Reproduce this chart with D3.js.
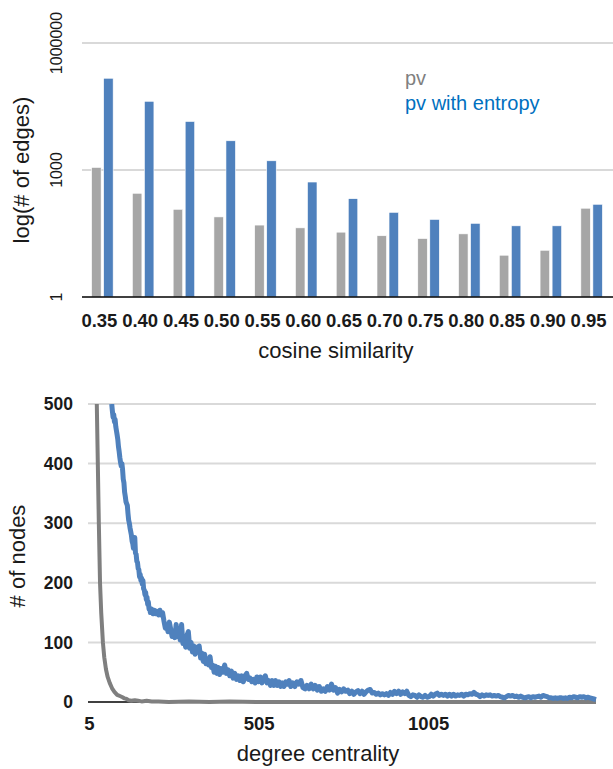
<!DOCTYPE html>
<html>
<head>
<meta charset="utf-8">
<script src="https://cdn.jsdelivr.net/npm/d3@7"></script>
<style>
	body { margin: 0; background: #fff; }
	svg { display: block; font-family: "Liberation Sans", Arial, sans-serif; }
</style>
</head>
<body>
<svg id="chart" width="613" height="769"></svg>
<script>
// top chart: number of edges per cosine similarity threshold (log scale)
var cats = ['0.35', '0.40', '0.45', '0.50', '0.55', '0.60', '0.65', '0.70', '0.75', '0.80', '0.85', '0.90', '0.95'];
var pvEdges = [1150, 282, 118, 78, 50, 43, 34, 28, 24, 31, 9.7, 12.7, 125];
var entropyEdges = [147000, 42000, 14000, 4900, 1650, 520, 210, 100, 68, 55, 48, 48, 155];
var logTicks = [1, 1000, 1000000];

// bottom chart: degree centrality distribution
var degTicks = [5, 505, 1005];
var nodeTicks = [0, 100, 200, 300, 400, 500];
var pvNodes = [[5, 1600], [10, 1300], [20, 800], [28, 500], [31, 400], [34, 300], [37.5, 200], [41, 150], [46, 100], [50, 75],
	[55, 55], [60, 42], [66, 32], [73, 23], [80, 17], [88, 12], [96, 10], [104, 8], [110, 6], [116, 5], [122, 3], [130, 2],
	[140, 3], [150, 2], [160, 1], [175, 2], [190, 1], [210, 1], [240, 0], [300, 1], [360, 0], [420, 1], [500, 0], [700, 0],
	[900, 0], [1200, 0], [1500, 0]];
var entropyNodes = [[72, 500], [74, 488], [76, 478], [78, 482], [80, 470], [82, 474], [84, 462], [86, 455], [88, 448], [90, 440],
	[92, 428], [94, 420], [96, 410], [98, 402], [100, 396], [102, 400], [104, 390], [106, 374], [108, 368], [110, 352], [112, 345],
	[114, 336], [116, 333], [118, 330], [120, 316], [122, 305], [124, 300], [126, 292], [128, 286], [130, 280], [132, 270],
	[134, 266], [136, 258], [138, 262], [140, 276], [142, 250], [144, 248], [146, 236], [148, 234], [150, 224], [152, 222],
	[154, 210], [156, 214], [158, 204], [160, 208], [162, 198], [164, 204], [166, 190], [168, 188], [170, 180], [172, 184],
	[174, 172], [176, 176], [178, 164], [180, 168], [182, 156], [184, 158], [186, 150], [190, 156], [194, 148], [198, 154],
	[202, 148], [206, 152], [210, 146], [214, 154], [218, 146], [222, 150], [226, 136], [230, 124], [234, 130], [238, 118],
	[242, 134], [246, 122], [250, 110], [254, 118], [258, 108], [262, 130], [266, 110], [270, 118], [274, 104], [278, 130],
	[282, 98], [286, 108], [290, 92], [294, 112], [298, 118], [302, 90], [306, 100], [310, 84], [314, 94], [318, 80], [322, 92],
	[326, 86], [330, 94], [334, 74], [338, 82], [342, 68], [346, 80], [350, 64], [354, 72], [358, 62], [362, 76], [366, 58],
	[370, 62], [374, 50], [378, 60], [382, 48], [386, 58], [390, 46], [395, 56], [400, 50], [405, 62], [410, 48], [415, 54],
	[420, 44], [425, 52], [430, 40], [435, 48], [440, 38], [445, 44], [450, 36], [455, 44], [460, 34], [465, 44], [470, 48],
	[475, 38], [480, 40], [485, 34], [490, 38], [495, 32], [500, 42], [505, 34], [510, 42], [515, 32], [520, 40], [525, 44],
	[530, 32], [535, 36], [540, 28], [545, 36], [550, 28], [555, 36], [560, 28], [565, 34], [570, 26], [575, 32], [580, 26],
	[585, 34], [590, 30], [595, 36], [600, 26], [606, 32], [612, 26], [618, 34], [624, 30], [630, 36], [636, 24], [642, 22],
	[648, 28], [654, 22], [660, 30], [666, 22], [672, 28], [678, 20], [684, 26], [690, 18], [696, 22], [702, 18], [708, 26],
	[714, 20], [720, 30], [726, 20], [732, 24], [738, 15], [744, 21], [750, 17], [756, 22], [762, 18], [768, 20], [774, 14],
	[780, 18], [786, 13], [792, 17], [798, 19], [804, 14], [810, 18], [816, 13], [822, 17], [828, 20], [834, 21], [840, 15],
	[846, 16], [852, 13], [858, 15], [864, 12], [870, 14], [876, 12], [882, 14], [888, 11], [894, 16], [900, 13], [906, 18],
	[912, 14], [918, 18], [924, 13], [930, 17], [936, 14], [942, 18], [948, 11], [954, 9], [960, 12], [966, 11], [972, 8],
	[978, 12], [984, 9], [990, 8], [996, 11], [1002, 8], [1008, 9], [1014, 13], [1020, 10], [1026, 13], [1032, 15], [1038, 11],
	[1044, 13], [1050, 11], [1056, 13], [1062, 10], [1068, 13], [1074, 10], [1080, 13], [1086, 10], [1092, 12], [1098, 11],
	[1104, 13], [1110, 10], [1116, 13], [1122, 12], [1128, 14], [1134, 13], [1140, 16], [1146, 13], [1152, 12], [1158, 9],
	[1164, 12], [1170, 10], [1176, 12], [1182, 11], [1188, 12], [1194, 10], [1200, 11], [1206, 10], [1212, 11], [1218, 9],
	[1224, 8], [1230, 7], [1236, 9], [1242, 11], [1248, 10], [1254, 11], [1260, 9], [1266, 10], [1272, 8], [1278, 10],
	[1284, 8], [1290, 7], [1296, 8], [1302, 9], [1308, 7], [1314, 9], [1320, 8], [1326, 9], [1332, 10], [1338, 8], [1344, 11],
	[1350, 10], [1356, 9], [1362, 7], [1368, 7], [1374, 6], [1380, 7], [1386, 6], [1392, 7], [1398, 7], [1404, 6], [1410, 7],
	[1416, 6], [1422, 8], [1428, 7], [1434, 9], [1440, 8], [1446, 7], [1452, 9], [1458, 8], [1464, 9], [1470, 7], [1476, 8],
	[1482, 7], [1488, 6], [1494, 5], [1500, 4]];

var svg = d3.select('#chart');
var gridColor = '#d9d9d9';
var textColor = '#1a1a1a';

// ---------- top chart ----------
var x1 = d3.scaleBand().domain(cats).range([82, 612]);
var sub = d3.scaleBand().domain(['pv', 'ent']).range([0, x1.bandwidth()]).paddingInner(0.21).paddingOuter(0.8);
var y1 = d3.scaleLog().domain([1, 1000000]).range([297, 43]);

var barChart = svg.append('g');
barChart.selectAll('line.grid').data(logTicks.slice(1)).enter().append('line')
	.attr('class', 'grid')
	.attr('x1', 82).attr('x2', 613)
	.attr('y1', function (d) { return y1(d); })
	.attr('y2', function (d) { return y1(d); })
	.attr('stroke', gridColor).attr('stroke-width', 2);

var groups = barChart.selectAll('g.cat').data(cats).enter().append('g')
	.attr('class', 'cat')
	.attr('transform', function (d) { return 'translate(' + x1(d) + ',0)'; });
groups.append('rect')
	.attr('x', sub('pv')).attr('width', sub.bandwidth())
	.attr('y', function (d, i) { return y1(pvEdges[i]); })
	.attr('height', function (d, i) { return y1(1) - y1(pvEdges[i]); })
	.attr('fill', '#a6a6a6').attr('stroke', '#fff').attr('stroke-width', 0.6);
groups.append('rect')
	.attr('x', sub('ent')).attr('width', sub.bandwidth())
	.attr('y', function (d, i) { return y1(entropyEdges[i]); })
	.attr('height', function (d, i) { return y1(1) - y1(entropyEdges[i]); })
	.attr('fill', '#4f81bd').attr('stroke', '#fff').attr('stroke-width', 0.6);

var xAxis1 = barChart.append('g').attr('transform', 'translate(0,297)')
	.call(d3.axisBottom(x1).tickSize(0).tickPadding(0));
xAxis1.select('.domain').attr('d', 'M82,0H613').attr('stroke', '#000').attr('stroke-width', 1.5);
xAxis1.selectAll('text')
	.attr('dx', -3).attr('y', 30).attr('dy', 0)
	.style('font-size', '18.5px').style('font-weight', 'bold').attr('fill', textColor);

var yAxis1 = barChart.append('g').attr('transform', 'translate(82,0)')
	.call(d3.axisLeft(y1).tickValues(logTicks).tickFormat(d3.format('d')).tickSize(0));
yAxis1.select('.domain').remove();
yAxis1.selectAll('text')
	.attr('transform', 'rotate(-90)')
	.attr('x', 0).attr('y', -20).attr('dy', 0)
	.attr('text-anchor', 'middle')
	.style('font-size', '16px').attr('fill', textColor);
// rotated labels need x along the (rotated) tick position
yAxis1.selectAll('.tick').each(function (d) {
	d3.select(this).attr('transform', null)
		.select('text').attr('x', -y1(d));
});

barChart.append('text')
	.attr('transform', 'translate(29,170) rotate(-90)')
	.attr('text-anchor', 'middle')
	.style('font-size', '22px').attr('fill', textColor)
	.text('log(# of edges)');
barChart.append('text')
	.attr('x', 336).attr('y', 358)
	.attr('text-anchor', 'middle')
	.style('font-size', '22px').attr('fill', textColor)
	.text('cosine similarity');

// legend
barChart.append('text').attr('x', 405).attr('y', 85)
	.style('font-size', '20px').attr('fill', '#808080').text('pv');
barChart.append('text').attr('x', 405).attr('y', 110)
	.style('font-size', '20px').attr('fill', '#0070c0').text('pv with entropy');

// ---------- bottom chart ----------
var x2 = d3.scaleLinear().domain([5, 1500]).range([89, 596]);
var y2 = d3.scaleLinear().domain([0, 500]).range([702, 404]);

var lineChart = svg.append('g');
lineChart.append('clipPath').attr('id', 'plotclip')
	.append('rect').attr('x', 80).attr('y', y2(500)).attr('width', 530).attr('height', y2(0) - y2(500) + 10);

lineChart.selectAll('line.grid').data(nodeTicks.slice(1)).enter().append('line')
	.attr('class', 'grid')
	.attr('x1', 88).attr('x2', 596)
	.attr('y1', function (d) { return y2(d); })
	.attr('y2', function (d) { return y2(d); })
	.attr('stroke', gridColor).attr('stroke-width', 2);

var xAxis2 = lineChart.append('g').attr('transform', 'translate(0,' + y2(0) + ')')
	.call(d3.axisBottom(x2).tickValues(degTicks).tickFormat(d3.format('d')).tickSize(0));
xAxis2.select('.domain').attr('d', 'M88,0H596').attr('stroke', '#000').attr('stroke-width', 1.5);
xAxis2.selectAll('text')
	.attr('y', 28).attr('dy', 0)
	.style('font-size', '18.5px').style('font-weight', 'bold').attr('fill', textColor);

var yAxis2 = lineChart.append('g').attr('transform', 'translate(73,0)')
	.call(d3.axisLeft(y2).tickValues(nodeTicks).tickSize(0).tickPadding(0));
yAxis2.select('.domain').remove();
yAxis2.selectAll('text')
	.style('font-size', '17.5px').style('font-weight', 'bold').attr('fill', textColor);

var line = d3.line()
	.x(function (d) { return x2(d[0]); })
	.y(function (d) { return y2(d[1]); });

var lines = lineChart.append('g').attr('clip-path', 'url(#plotclip)');
lines.append('path').datum(pvNodes)
	.attr('d', line)
	.attr('fill', 'none').attr('stroke', '#7f7f7f').attr('stroke-width', 4)
	.attr('stroke-linejoin', 'round');
lines.append('path').datum(entropyNodes)
	.attr('d', line)
	.attr('fill', 'none').attr('stroke', '#4f81bd').attr('stroke-width', 5)
	.attr('stroke-linejoin', 'round');

lineChart.append('text')
	.attr('transform', 'translate(25,556) rotate(-90)')
	.attr('text-anchor', 'middle')
	.style('font-size', '22px').attr('fill', textColor)
	.text('# of nodes');
lineChart.append('text')
	.attr('x', 318).attr('y', 761)
	.attr('text-anchor', 'middle')
	.style('font-size', '22px').attr('fill', textColor)
	.text('degree centrality');
</script>
</body>
</html>
